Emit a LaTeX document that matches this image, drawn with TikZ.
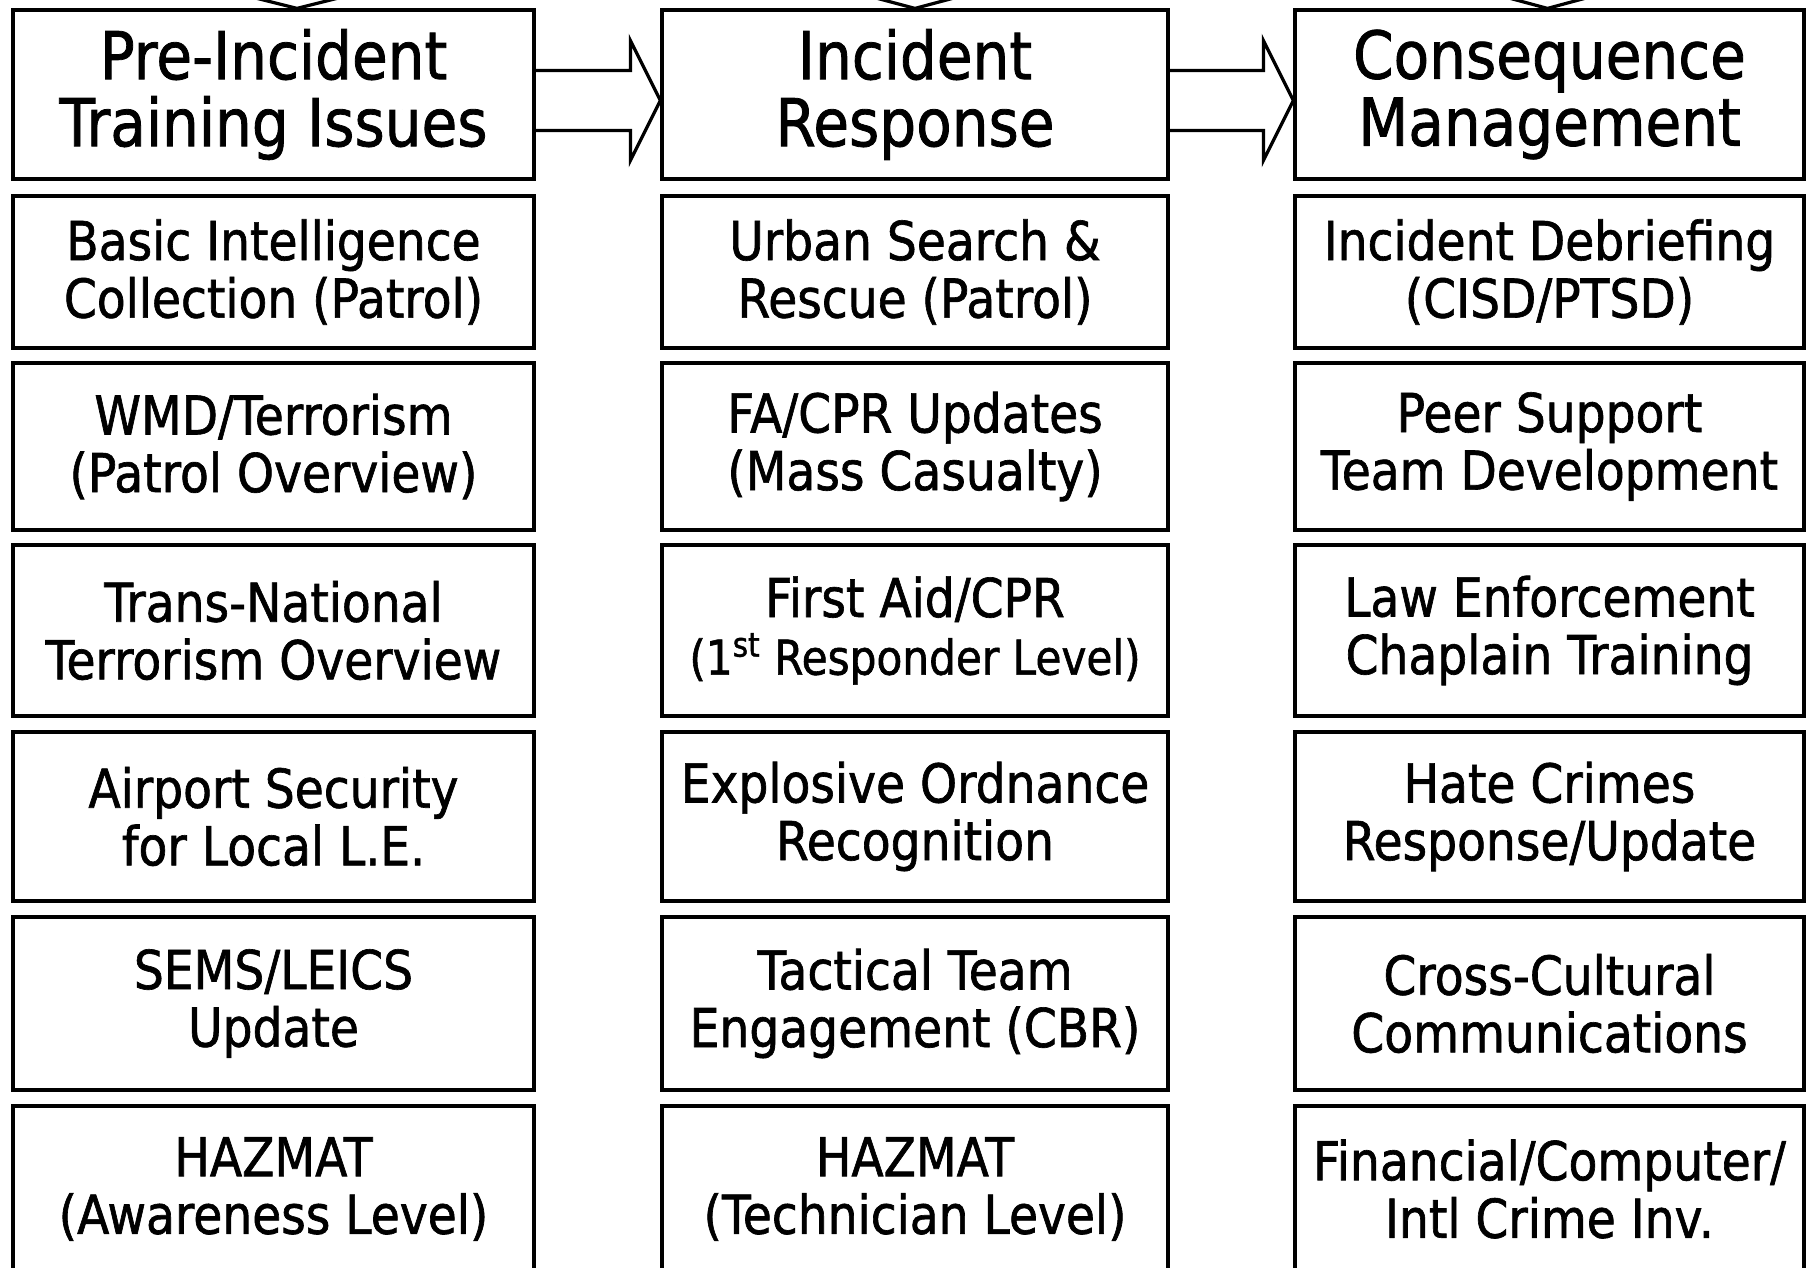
\documentclass[tikz,border=0pt]{standalone}
\usepackage{fontspec}
\setmainfont[FakeStretch=0.88,FakeBold=1.2]{DejaVu Sans}
\usetikzlibrary{calc}
\begin{document}
\begin{tikzpicture}[x=0.5pt,y=-0.5pt,
  box/.style={draw, line width=1.6pt, inner sep=0pt, align=center,
    font=\fontsize{26.8}{28.8}\selectfont},
  head/.style={box, font=\fontsize{33}{33.5}\selectfont},
  colL/.style={minimum width=260.5pt},
  colM/.style={minimum width=253pt},
  colR/.style={minimum width=254.5pt},
  rH/.style={minimum height=84.5pt},
  rA/.style={minimum height=76pt},
  rB/.style={minimum height=83.5pt},
  rC/.style={minimum height=85.5pt},
  rD/.style={minimum height=84.5pt},
  rE/.style={minimum height=86.5pt},
  rF/.style={minimum height=83pt},
  flow/.style={line width=1.6pt, line join=miter}]
\useasboundingbox (0,0) rectangle (1806,1268);
\clip (0,0) rectangle (1806,1268);
\fill[white] (0,0) rectangle (1806,1268);

% headers
\node[head,colL,rH] (hL) at (273.5,94.5) {Pre-Incident\\Training Issues};
\node[head,colM,rH] (hM) at (915,94.5) {Incident\\Response};
\node[head,colR,rH] (hR) at (1549.5,94.5) {Consequence\\Management};

% left column
\node[box,colL,rA] (l1) at (273.5,272) {Basic Intelligence\\Collection (Patrol)};
\node[box,colL,rB] (l2) at (273.5,446.5) {WMD/Terrorism\\(Patrol Overview)};
\node[box,colL,rC] (l3) at (273.5,630.5) {Trans-National\\Terrorism Overview};
\node[box,colL,rD] (l4) at (273.5,816.5) {Airport Security\\for Local L.E.};
\node[box,colL,rE] (l5) at (273.5,1003.5) {SEMS/LEICS\\Update};
\node[box,colL,rF] (l6) at (273.5,1189) {HAZMAT\\(Awareness Level)};

% middle column
\node[box,colM,rA] (m1) at (915,272) {Urban Search \&\\Rescue (Patrol)};
\node[box,colM,rB] (m2) at (915,446.5) {FA/CPR Updates\\(Mass Casualty)};
\node[box,colM,rC] (m3) at (915,630.5) {First Aid/CPR\\{\fontsize{24}{28.8}\selectfont(1\textsuperscript{st} Responder Level)}};
\node[box,colM,rD] (m4) at (915,816.5) {Explosive Ordnance\\Recognition};
\node[box,colM,rE] (m5) at (915,1003.5) {Tactical Team\\Engagement (CBR)};
\node[box,colM,rF] (m6) at (915,1189) {HAZMAT\\(Technician Level)};

% right column
\node[box,colR,rA] (r1) at (1549.5,272) {Incident Debriefing\\(CISD/PTSD)};
\node[box,colR,rB] (r2) at (1549.5,446.5) {Peer Support\\Team Development};
\node[box,colR,rC] (r3) at (1549.5,630.5) {Law Enforcement\\Chaplain Training};
\node[box,colR,rD] (r4) at (1549.5,816.5) {Hate Crimes\\Response/Update};
\node[box,colR,rE] (r5) at (1549.5,1003.5) {Cross-Cultural\\Communications};
\node[box,colR,rF] (r6) at (1549.5,1189) {Financial/Computer/\\Intl Crime Inv.};

% block arrows between headers
\path ($(hL.east)+(0,6)$) coordinate (s1) ($(hM.west)+(0,6)$) coordinate (e1);
\draw[flow] ($(s1)+(0,-30)$) -- ($(e1)+(-30,-30)$) -- ($(e1)+(-30,-60)$) -- (e1)
  -- ($(e1)+(-30,60)$) -- ($(e1)+(-30,30)$) -- ($(s1)+(0,30)$);
\path ($(hM.east)+(0,6)$) coordinate (s2) ($(hR.west)+(0,6)$) coordinate (e2);
\draw[flow] ($(s2)+(0,-30)$) -- ($(e2)+(-30,-30)$) -- ($(e2)+(-30,-60)$) -- (e2)
  -- ($(e2)+(-30,60)$) -- ($(e2)+(-30,30)$) -- ($(s2)+(0,30)$);

% arrow tips entering the headers from above
\path ($(hL.north)+(23.5,0)$) coordinate (tL)
      ($(hM.north)+(0,0)$) coordinate (tM)
      ($(hR.north)+(-2,0)$) coordinate (tR);
\draw[flow] ($(tL)+(-40,-10)$) -- (tL) -- ($(tL)+(40,-10)$);
\draw[flow] ($(tM)+(-45,-12)$) -- (tM) -- ($(tM)+(45,-12)$);
\draw[flow] ($(tR)+(-52,-14)$) -- (tR) -- ($(tR)+(52,-14)$);
\end{tikzpicture}
\end{document}
